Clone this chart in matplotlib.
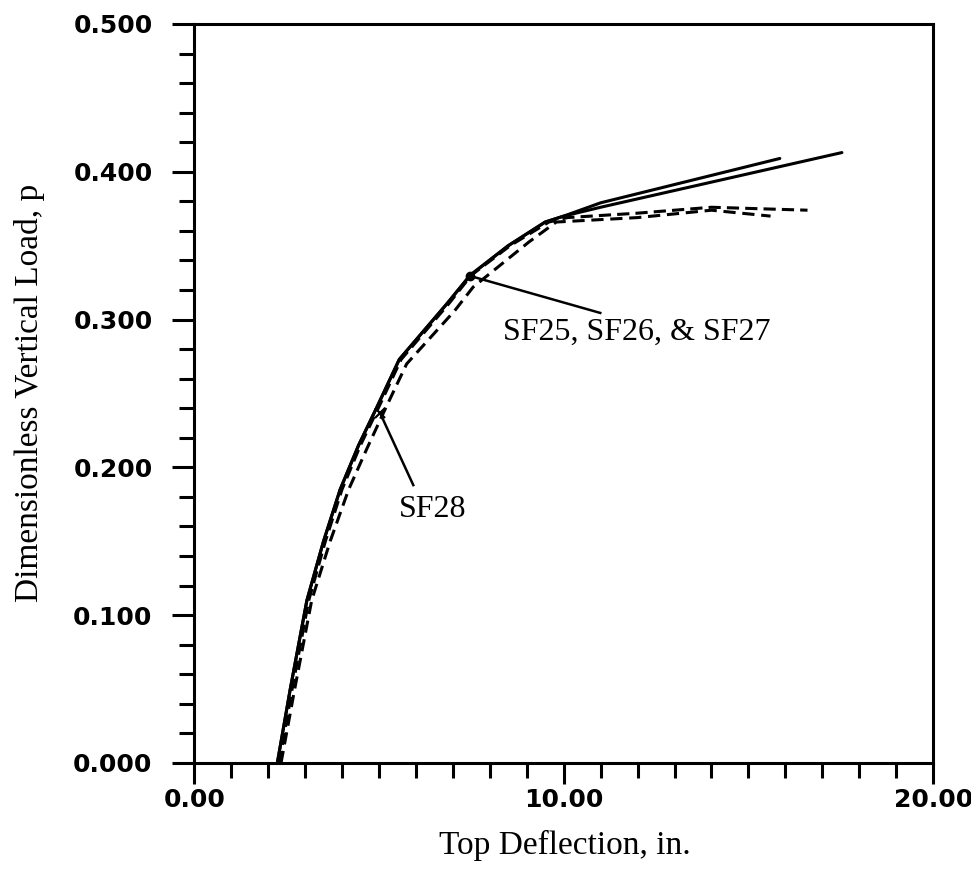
import matplotlib
matplotlib.use("Agg")
import matplotlib.pyplot as plt
from matplotlib.ticker import MultipleLocator, FormatStrFormatter

# Top deflection (in.) vs dimensionless vertical load for four frames
sf25_x = [2.25, 2.6, 3.05, 3.5, 3.95, 4.45, 4.95, 5.55, 6.85, 7.47, 8.5, 9.5, 10.0, 11.0, 15.85]
sf25_p = [0.0, 0.05, 0.11, 0.15, 0.185, 0.215, 0.241, 0.273, 0.311, 0.330, 0.350, 0.366, 0.370, 0.379, 0.409]

sf26_x = [2.25, 2.6, 3.05, 3.5, 3.95, 4.45, 4.95, 5.55, 6.85, 7.47, 8.5, 9.5, 10.0, 11.0, 17.53]
sf26_p = [0.0, 0.05, 0.11, 0.15, 0.185, 0.215, 0.241, 0.273, 0.311, 0.330, 0.350, 0.366, 0.370, 0.376, 0.413]

sf27_x = [2.3, 2.65, 3.1, 3.55, 4.0, 4.5, 5.0, 5.6, 6.9, 7.5, 8.55, 9.6, 10.1, 12.0, 14.0, 16.6]
sf27_p = [0.0, 0.05, 0.11, 0.15, 0.185, 0.215, 0.241, 0.273, 0.311, 0.330, 0.350, 0.366, 0.369, 0.372, 0.376, 0.374]

sf28_x = [2.35, 2.72, 3.18, 3.68, 4.18, 4.68, 5.18, 5.75, 7.05, 7.55, 9.06, 9.8, 12.0, 14.0, 15.6]
sf28_p = [0.0, 0.05, 0.11, 0.15, 0.185, 0.213, 0.240, 0.270, 0.306, 0.322, 0.3525, 0.366, 0.369, 0.374, 0.370]

x_ticks = [0.0, 10.0, 20.0]
y_ticks = [0.0, 0.1, 0.2, 0.3, 0.4, 0.5]

fig = plt.figure(figsize=(9.71, 8.85), dpi=100)
ax = fig.add_axes([0.200, 0.1379, 0.761, 0.835])

lw = 2.2
ax.plot(sf25_x, sf25_p, color="black", lw=lw, solid_capstyle="round")
ax.plot(sf26_x, sf26_p, color="black", lw=lw, solid_capstyle="round")
ax.plot(sf27_x, sf27_p, color="black", lw=lw, dashes=(4, 2))
ax.plot(sf28_x, sf28_p, color="black", lw=lw, dashes=(4, 2.2))

# leader lines and labels
ax.plot([7.47, 10.99], [0.3295, 0.3045], color="black", lw=1.8)
ax.plot([7.47], [0.3295], marker="o", ms=6, color="black")
ax.text(8.36, 0.286, "SF25, SF26, & SF27", family="Liberation Serif",
        fontsize=23, va="baseline", ha="left")

ax.plot([5.03, 5.93], [0.2368, 0.188], color="black", lw=1.8)
ax.plot([5.03], [0.2368], marker="x", ms=7, mew=1.6, color="black")
ax.text(5.55, 0.1664, "SF28", family="Liberation Serif",
        fontsize=23, va="baseline", ha="left")

ax.set_xlim(0, 20)
ax.set_ylim(0, 0.5)
ax.set_xticks(x_ticks)
ax.set_yticks(y_ticks)
ax.xaxis.set_minor_locator(MultipleLocator(1.0))
ax.yaxis.set_minor_locator(MultipleLocator(0.02))
ax.xaxis.set_major_formatter(FormatStrFormatter("%.2f"))
ax.yaxis.set_major_formatter(FormatStrFormatter("%.3f"))

for s in ax.spines.values():
    s.set_linewidth(2.2)

ax.tick_params(axis="both", which="major", direction="out", length=16, width=2.2,
               labelsize=18, pad=14)
ax.tick_params(axis="both", which="minor", direction="out", length=11, width=2.2)
ax.tick_params(axis="x", which="major", length=15, pad=3)
for lab in ax.get_xticklabels() + ax.get_yticklabels():
    lab.set_fontweight("bold")
    lab.set_family("DejaVu Sans")

fig.text(565 / 971, 1 - 845 / 885, "Top Deflection, in.", family="Liberation Serif",
         fontsize=24, ha="center", va="center")
fig.text(30 / 971, 1 - 393 / 885, "Dimensionless Vertical Load, p", family="Liberation Serif",
         fontsize=24, ha="center", va="center", rotation=90)

fig.savefig("out.png", dpi=100)
